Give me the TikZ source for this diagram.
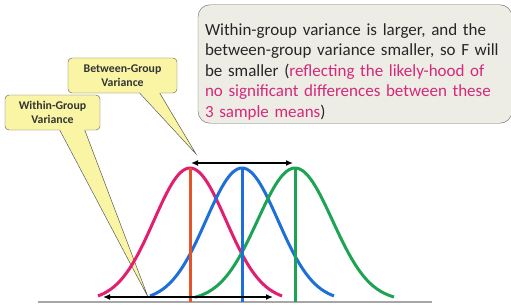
\documentclass[tikz,border=0pt]{standalone}
\usepackage{fontspec}
\setmainfont{Carlito}
\usetikzlibrary{arrows.meta,calc}

\definecolor{calloutfill}{RGB}{250,245,165}
\definecolor{notefill}{RGB}{238,237,229}
\definecolor{notepink}{RGB}{214,40,122}
\definecolor{redcurve}{RGB}{226,30,110}
\definecolor{redmean}{RGB}{228,84,40}
\definecolor{bluecurve}{RGB}{30,112,216}
\definecolor{greencurve}{RGB}{28,164,84}

\begin{document}
\begin{tikzpicture}[x=1pt,y=-1pt,
  cbox/.style={draw=black!65,fill=calloutfill,rounded corners=4pt,align=center,
               font=\fontsize{11.8}{13.5}\selectfont\bfseries,text=black!80,
               inner sep=1pt,minimum height=35pt},
  cptr/.style={fill=calloutfill},
  cedge/.style={draw=black!65,line width=0.5pt},
  notebox/.style={draw=black!60,fill=notefill,rounded corners=12pt,align=left,
               font=\fontsize{17}{20.5}\selectfont,text=black!85,
               text width=300pt,inner xsep=7pt,minimum height=112pt},
  curve/.style={line width=3pt,smooth},
  mline/.style={line width=3pt},
  dbl/.style={{Latex[length=7pt,width=6pt]}-{Latex[length=7pt,width=6pt]},line width=1.6pt,draw=black}]

\useasboundingbox (0,0) rectangle (511,305);

% note box -- top right
\node[notebox] (note) at (355,64) {\rule{0pt}{27pt}Within-group variance is larger, and the\\
between-group variance smaller, so F will\\
be smaller (\textcolor{notepink}{reflecting the likely-hood of}\\
\textcolor{notepink}{no significant differences between these}\\
\textcolor{notepink}{3 sample means})};

% callouts
\coordinate (wtip) at (148,297);
\coordinate (btip) at (196,154);
\node[cbox,minimum width=95pt] (within) at (52.5,112.5) {Within-Group\\Variance};
\node[cbox,minimum width=109pt] (between) at (122.5,75.5) {Between-Group\\Variance};
\fill[cptr] ($(within.south west)+(55,-1)$) -- (wtip) -- ($(within.south west)+(80,-1)$) -- cycle;
\draw[cedge] ($(within.south west)+(55,0)$) -- (wtip) -- ($(within.south west)+(80,0)$);
\fill[cptr] ($(between.south west)+(72,-1)$) -- (btip) -- ($(between.south west)+(92,-1)$) -- cycle;
\draw[cedge] ($(between.south west)+(72,0)$) -- (btip) -- ($(between.south west)+(92,0)$);

% baseline and means
\coordinate (base0) at (38,302);
\coordinate (base1) at (432,302);
\coordinate (rpk) at (190,168);
\coordinate (bpk) at (242,168);
\coordinate (gpk) at (295,168);
\draw[black!35,line width=1.2pt] (base0) -- (base1);

% three sample distributions
\draw[curve,redcurve] plot[domain=98:282,samples=60] (\x,{301-133*exp(-((\x-190)^2)/2592)});
\draw[curve,bluecurve] plot[domain=150:334,samples=60] (\x,{301-133*exp(-((\x-242)^2)/2592)});
\draw[curve,greencurve] plot[domain=195:394,samples=60] (\x,{301-133*exp(-((\x-295)^2)/2800)});
\draw[mline,redmean] (rpk) -- (rpk |- base0);
\draw[mline,bluecurve] (bpk) -- (bpk |- base0);
\draw[mline,greencurve] (gpk) -- (gpk |- base0);

% variance arrows
\coordinate (bgl) at (191,163);
\coordinate (bgr) at (293,163);
\coordinate (wgl) at (103,297);
\coordinate (wgr) at (273,297);
\draw[dbl] (bgl) -- (bgr);
\draw[dbl] (wgl) -- (wgr);

\end{tikzpicture}
\end{document}
